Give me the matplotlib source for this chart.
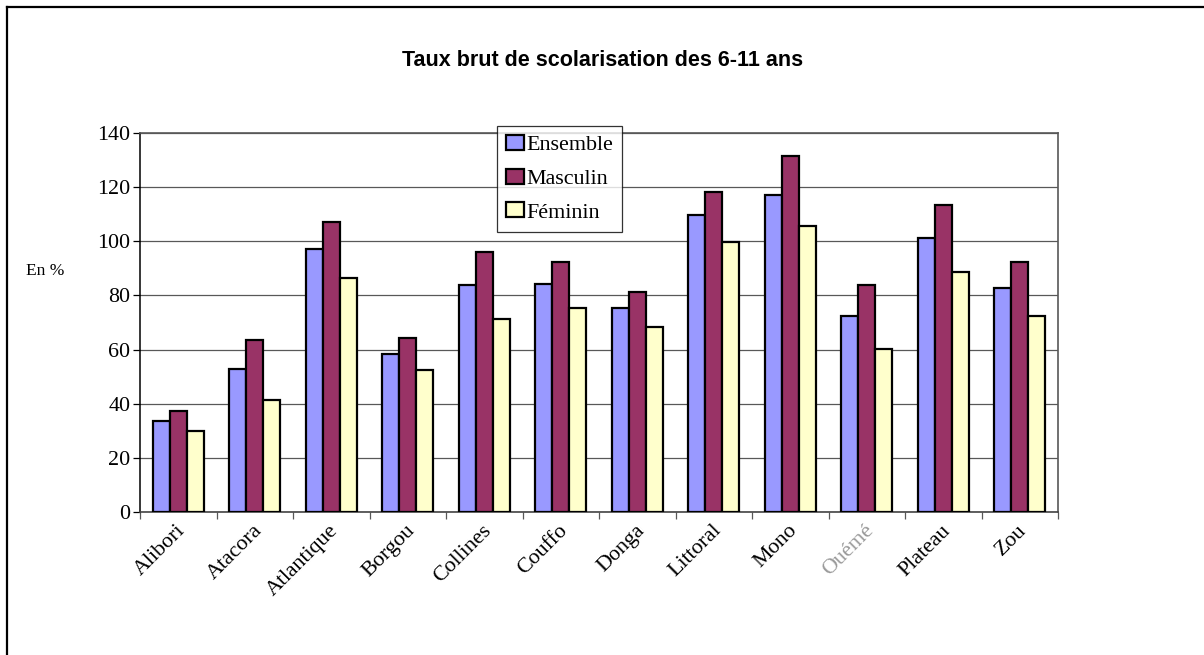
#!/usr/bin/env python3
"""Taux brut de scolarisation des 6-11 ans, par département (grouped bars)."""
import matplotlib

matplotlib.use("Agg")
import matplotlib.pyplot as plt
from matplotlib.lines import Line2D
import numpy as np

# ─── Data ──────────────────────────────────────────────────────────────────────

DEPARTEMENTS = [
    "Alibori", "Atacora", "Atlantique", "Borgou", "Collines", "Couffo",
    "Donga", "Littoral", "Mono", "Ouémé", "Plateau", "Zou",
]
ENSEMBLE = [33.6, 52.9, 97.2, 58.5, 83.8, 84.2, 75.3, 109.6, 117.3, 72.5, 101.4, 82.8]
MASCULIN = [37.3, 63.5, 107.1, 64.2, 95.9, 92.4, 81.4, 118.3, 131.6, 84.0, 113.3, 92.4]
FEMININ = [29.8, 41.2, 86.6, 52.3, 71.3, 75.4, 68.4, 99.6, 105.6, 60.3, 88.6, 72.5]
SERIES_NAMES = ["Ensemble", "Masculin", "Féminin"]
Y_TICKS = [0, 20, 40, 60, 80, 100, 120, 140]

# ─── Style ─────────────────────────────────────────────────────────────────────

COLORS = ["#9999FF", "#993366", "#FFFFCC"]
SERIF = "Liberation Serif"
SANS = "Liberation Sans"
FS = 15.8                # serif text size (ticks, legend, labels)
BAR_W = 0.222
GRID = "#585858"

fig = plt.figure(figsize=(12.04, 6.55), dpi=100)
ax = fig.add_axes([140 / 1204, 1 - 511.7 / 655, 918 / 1204, 378.4 / 655])

x = np.arange(len(DEPARTEMENTS))
for k, (vals, name, col) in enumerate(zip([ENSEMBLE, MASCULIN, FEMININ], SERIES_NAMES, COLORS)):
    ax.bar(x + (k - 1) * BAR_W, vals, BAR_W, color=col, edgecolor="black",
           linewidth=1.6, label=name, zorder=3)

ax.set_xlim(-0.5, len(DEPARTEMENTS) - 0.5)
ax.set_ylim(0, 140)
ax.set_yticks(Y_TICKS)
ax.set_yticklabels([str(v) for v in Y_TICKS], family=SERIF, fontsize=FS)
ax.yaxis.grid(True, color=GRID, linewidth=0.9, zorder=0)
ax.set_axisbelow(True)

# category labels at group centres, tick marks at group boundaries
ax.set_xticks(np.arange(len(DEPARTEMENTS) + 1) - 0.5)
ax.set_xticklabels([])
ax.tick_params(axis="x", length=5, width=0.9, direction="out", color=GRID)
ax.tick_params(axis="y", length=5, width=0.9, direction="out", pad=2)
for i, name in enumerate(DEPARTEMENTS):
    col = "#9a9a9a" if name == "Ouémé" else "black"
    ax.text(i - 0.03, -3.5, name, rotation=45, ha="right", va="top",
            rotation_mode="anchor", family=SERIF, fontsize=FS, color=col)

for side in ["top", "right"]:
    ax.spines[side].set_color(GRID)
    ax.spines[side].set_linewidth(1.2)
ax.spines["left"].set_color("black")
ax.spines["left"].set_linewidth(1.1)
ax.spines["bottom"].set_color("#444444")
ax.spines["bottom"].set_linewidth(1.2)

ax.text(-0.082, 0.636, "En %", transform=ax.transAxes, ha="right", va="center",
        family=SERIF, fontsize=12.5)

fig.text(603 / 1204, 1 - 60 / 655, "Taux brut de scolarisation des 6-11 ans",
         ha="center", va="center", family=SANS, fontweight="bold", fontsize=15.5)

leg = ax.legend(loc="upper left", bbox_to_anchor=(497 / 1204, 1 - 126 / 655),
                bbox_transform=fig.transFigure, prop={"family": SERIF, "size": FS},
                frameon=True, fancybox=False, handlelength=0.8, handleheight=0.65,
                handletextpad=0.12, labelspacing=0.62, borderpad=0.42,
                borderaxespad=0)
leg.get_frame().set_edgecolor("black")
leg.get_frame().set_linewidth(0.9)

# outer chart border (left and top edges only visible)
fig.add_artist(Line2D([6.5 / 1204, 6.5 / 1204], [0, 1 - 7 / 655],
                      transform=fig.transFigure, color="black", linewidth=1.6))
fig.add_artist(Line2D([6.5 / 1204, 1], [1 - 7 / 655, 1 - 7 / 655],
                      transform=fig.transFigure, color="black", linewidth=1.6))

fig.savefig("out.png", dpi=100)
